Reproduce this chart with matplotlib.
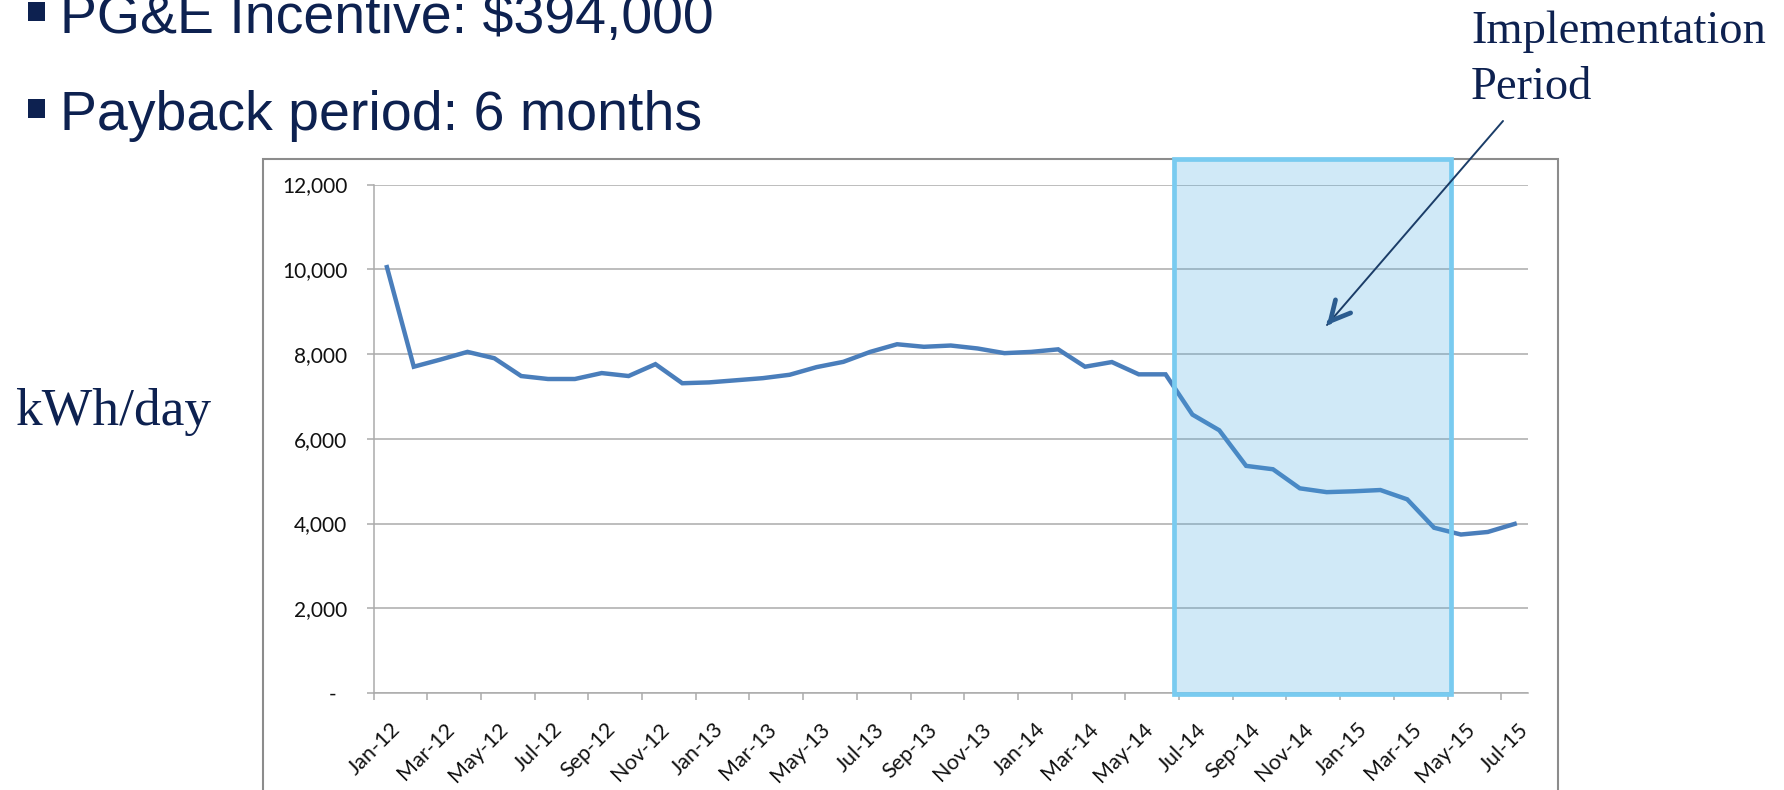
import matplotlib
matplotlib.use("Agg")
import matplotlib.pyplot as plt
import matplotlib.patches as mpatches
from matplotlib.transforms import ScaledTranslation

# ---------------- data ----------------
months = ["Jan-12", "Feb-12", "Mar-12", "Apr-12", "May-12", "Jun-12", "Jul-12", "Aug-12",
          "Sep-12", "Oct-12", "Nov-12", "Dec-12", "Jan-13", "Feb-13", "Mar-13", "Apr-13",
          "May-13", "Jun-13", "Jul-13", "Aug-13", "Sep-13", "Oct-13", "Nov-13", "Dec-13",
          "Jan-14", "Feb-14", "Mar-14", "Apr-14", "May-14", "Jun-14", "Jul-14", "Aug-14",
          "Sep-14", "Oct-14", "Nov-14", "Dec-14", "Jan-15", "Feb-15", "Mar-15", "Apr-15",
          "May-15", "Jun-15", "Jul-15"]
kwh_per_day = [10050, 7700, 7870, 8050, 7900, 7480, 7410, 7410, 7550, 7480, 7760, 7310,
               7330, 7380, 7430, 7510, 7690, 7815, 8050, 8230, 8170, 8200, 8130, 8020,
               8050, 8110, 7700, 7810, 7520, 7520, 6570, 6200, 5360, 5280, 4830, 4740,
               4760, 4790, 4570, 3900, 3740, 3800, 3990]
x_tick_labels = months[::2]
y_ticks = [0, 2000, 4000, 6000, 8000, 10000, 12000]
y_tick_labels = ["-", "2,000", "4,000", "6,000", "8,000", "10,000", "12,000"]
impl_start, impl_end = 29.83, 40.12   # month index (Jul-14 .. May-15)
bullets = ["PG&E Incentive: $394,000", "Payback period: 6 months"]

NAVY = "#0D2150"
GRID = "#ABABAB"

W, H = 1784, 790
fig = plt.figure(figsize=(W / 100, H / 100), dpi=100)
fig.patch.set_facecolor("white")

ax = fig.add_axes([373.5 / W, (H - 693) / H, 1154.55 / W, (693 - 184.5) / H])
ax.set_facecolor("none")

x = [i + 0.5 for i in range(len(kwh_per_day))]
ax.plot(x, kwh_per_day, color="#4A7EBB", lw=3.2, zorder=3, solid_joinstyle="miter")

ax.set_xlim(0, len(months))
ax.set_ylim(0, 12000)
ax.set_yticks(y_ticks)
ax.set_yticklabels(y_tick_labels)
ax.set_xticks(list(range(0, len(months), 2)))
ax.set_xticklabels(x_tick_labels, rotation=45, ha="right", va="top", rotation_mode="anchor")

for sp in ["top", "right"]:
    ax.spines[sp].set_visible(False)
for sp in ["left", "bottom"]:
    ax.spines[sp].set_color(GRID)
    ax.spines[sp].set_linewidth(1.1)

ax.yaxis.grid(True, color=GRID, lw=1.1)
ax.set_axisbelow(True)
ax.tick_params(axis="y", direction="out", length=4.7, width=1.1, color=GRID, pad=14.0,
               labelsize=15, labelcolor="#111111")
ax.tick_params(axis="x", direction="out", length=5.0, width=1.1, color=GRID, pad=14.0,
               labelsize=15.5, labelcolor="#111111")
for lab in ax.get_xticklabels() + ax.get_yticklabels():
    lab.set_fontfamily(["Lato", "DejaVu Sans"])

# implementation period box
rect = mpatches.Rectangle((impl_start, -30), impl_end - impl_start, 12600 + 30,
                          facecolor=(71 / 255, 171 / 255, 227 / 255, 0.25),
                          edgecolor="#79CBF0", lw=3.4, clip_on=False, zorder=5)
ax.add_patch(rect)

# outer chart frame
frame = mpatches.Rectangle((263.4 / W, -0.05), (1558 - 263.4) / W, (H - 159) / H + 0.05,
                           transform=fig.transFigure, fill=False, edgecolor="#8C8C8C",
                           lw=1.5, zorder=-1)
fig.add_artist(frame)

# bullet text
for k, txt in enumerate(bullets):
    base = 33 + 97 * k
    fig.add_artist(mpatches.Rectangle((28 / W, (H - base + 12) / H), 17 / W, 19 / H,
                                      transform=fig.transFigure, facecolor=NAVY,
                                      edgecolor="none"))
    fig.text(60 / W, (H - base) / H, txt, fontsize=40, color=NAVY, va="baseline",
             ha="left", family=["Liberation Sans", "DejaVu Sans"])

# serif annotations
serif = ["Liberation Serif", "DejaVu Serif"]
fig.text(15 / W, (H - 425) / H, "kWh/day", fontsize=38.5, color=NAVY, va="baseline",
         ha="left", family=serif)
fig.text(1471 / W, (H - 43) / H, "Implementation", fontsize=33.5, color=NAVY,
         va="baseline", ha="left", family=serif)
fig.text(1471 / W, (H - 99) / H, "Period", fontsize=33.5, color=NAVY,
         va="baseline", ha="left", family=serif)

# arrow
tip = (1327, H - 325)
start = (1503, H - 121)
ax.annotate("", xy=tip, xytext=start, xycoords="figure pixels", textcoords="figure pixels",
            arrowprops=dict(arrowstyle="-", color="#1B3D68", lw=1.4,
                            shrinkA=0, shrinkB=0), zorder=6)
d = ((start[0] - tip[0]), (start[1] - tip[1]))
n = (d[0] ** 2 + d[1] ** 2) ** 0.5
back = (tip[0] + 4 * d[0] / n, tip[1] + 4 * d[1] / n)
ax.annotate("", xy=tip, xytext=back, xycoords="figure pixels", textcoords="figure pixels",
            arrowprops=dict(arrowstyle="->, head_length=0.7, head_width=0.36",
                            mutation_scale=20, color="#2B5C8F", lw=3.4,
                            capstyle="round", joinstyle="round",
                            shrinkA=0, shrinkB=0), zorder=6)

# shift the "-" zero label left (accounting format look)
zl = ax.get_yticklabels()[0]
zl.set_transform(zl.get_transform() + ScaledTranslation(-0.11, 0, fig.dpi_scale_trans))
# shift x labels right
for lab in ax.get_xticklabels():
    lab.set_transform(lab.get_transform() + ScaledTranslation(0.17, 0, fig.dpi_scale_trans))

fig.savefig("out.png", dpi=100)
